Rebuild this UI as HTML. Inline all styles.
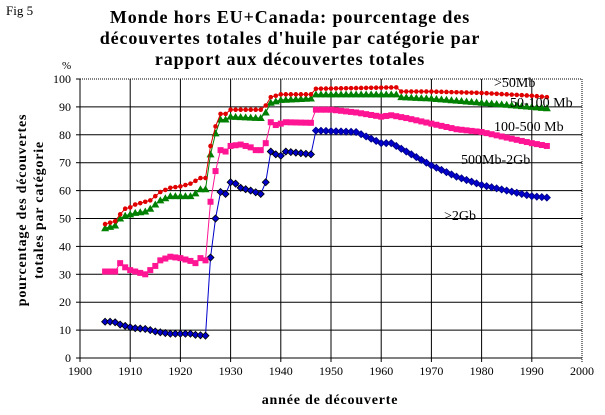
<!DOCTYPE html>
<html><head><meta charset="utf-8"><style>
body{margin:0;background:#fff;}
svg{display:block;font-family:"Liberation Serif",serif;}
</style></head><body>
<svg id="s" width="605" height="415" viewBox="0 0 605 415" xmlns="http://www.w3.org/2000/svg">
<rect width="605" height="415" fill="#fff"/>
<text x="6" y="15" font-size="13">Fig 5</text>
<g font-size="18" font-weight="bold" text-anchor="middle" letter-spacing="0.9">
<text x="290" y="23">Monde hors EU+Canada: pourcentage des</text>
<text x="290" y="44">découvertes totales d'huile par catégorie par</text>
<text x="290" y="65">rapport aux découvertes totales</text>
</g>
<text x="62" y="69" font-size="11">%</text>
<g font-size="14" font-weight="bold" text-anchor="middle" letter-spacing="0.8">
<text transform="translate(26,210) rotate(-90)">pourcentage des découvertes</text>
<text transform="translate(43,210) rotate(-90)">totales par catégorie</text>
<text x="330" y="404">année de découverte</text>
</g>
<g id="grid"></g>
<g id="data"></g>
<g font-size="14">
<text x="494" y="87">&gt;50Mb</text>
<text x="510" y="107">50-100 Mb</text>
<text x="494" y="131">100-500 Mb</text>
<text x="461" y="164">500Mb-2Gb</text>
<text x="444" y="220">&gt;2Gb</text>
</g>
</svg>
<script>
var ns="http://www.w3.org/2000/svg";
function X(y){return 80+(y-1900)*5.02;}
function Y(v){return 358-v*2.79;}
function el(p,t,a,txt){var e=document.createElementNS(ns,t);for(var k in a)e.setAttribute(k,a[k]);if(txt!=null)e.textContent=txt;p.appendChild(e);return e;}
var g=document.getElementById('grid');
for(var v=0;v<=100;v+=10){
 el(g,'line',{x1:80,x2:582,y1:Y(v),y2:Y(v),stroke:'#000','stroke-width':1,'stroke-dasharray':v==100?'1,1':''});
 el(g,'line',{x1:76,x2:80,y1:Y(v),y2:Y(v),stroke:'#000'});
 el(g,'text',{x:71,y:Y(v)+4,'font-size':12,'text-anchor':'end'},String(v));
}
for(var yr=1900;yr<=2000;yr+=10){
 var x=X(yr);
 el(g,'line',{x1:x,x2:x,y1:Y(100),y2:362,stroke:'#000','stroke-dasharray':yr==2000?'1,1':''});
 el(g,'text',{x:x,y:375,'font-size':12,'text-anchor':'middle'},String(yr));
}
function interp(k){var o=[];for(var i=0;i<k.length-1;i++){var a=k[i],b=k[i+1];for(var y=a[0];y<b[0];y++)o.push([y,a[1]+(b[1]-a[1])*(y-a[0])/(b[0]-a[0])]);}o.push(k[k.length-1]);return o;}
var blue=interp([[1905,13],[1906,13],[1907,12.8],[1908,12],[1909,11.5],[1910,11],[1911,10.7],[1913,10.4],[1914,10],[1915,9.5],[1916,9.2],[1918,8.7],[1922,8.7],[1923,8.3],[1925,8],[1926,36],[1927,50],[1928,59.5],[1929,58.8],[1930,63],[1931,62.5],[1932,61],[1934,60],[1936,58.8],[1937,63],[1938,74],[1939,73],[1940,72.5],[1941,74],[1946,73],[1947,81.5],[1955,81],[1960,77],[1962,77],[1965,74],[1970,69],[1975,65],[1980,62],[1985,60],[1990,58],[1993,57.5]]);
var pink=interp([[1905,31],[1907,31],[1908,34],[1909,32.5],[1910,31.5],[1911,31],[1913,30],[1914,31.5],[1915,33],[1916,35],[1918,36.3],[1920,35.8],[1922,34.8],[1923,34],[1924,35.8],[1925,35],[1926,56],[1927,67],[1928,74.5],[1929,74],[1930,76],[1932,76.5],[1934,75.5],[1935,74.5],[1936,74.5],[1937,77],[1938,84.5],[1939,83.5],[1941,84.5],[1946,84.3],[1947,89],[1950,89],[1955,88],[1960,86.5],[1962,87],[1965,86],[1970,84],[1975,82],[1980,81],[1985,79],[1990,77],[1993,76]]);
var green=interp([[1905,46.5],[1906,47],[1907,47.5],[1908,50],[1909,51],[1910,51.5],[1911,52],[1913,52.5],[1914,53.5],[1915,55],[1916,56.5],[1918,58],[1922,58],[1923,59],[1924,60.5],[1925,60.5],[1926,73],[1927,80.5],[1928,85.5],[1929,85.5],[1930,86.5],[1936,86],[1937,88],[1938,91.5],[1939,92],[1940,92.5],[1946,93],[1947,94.5],[1963,94.5],[1964,93.5],[1970,93],[1980,91.5],[1990,90],[1993,89.5]]);
var red=interp([[1905,48],[1906,48.5],[1907,49],[1908,51.5],[1909,53.5],[1910,54],[1911,55],[1913,56],[1914,56.5],[1915,58],[1916,59.5],[1918,61],[1920,61.5],[1922,62.5],[1923,63.5],[1924,64.5],[1925,64.5],[1926,76],[1927,83],[1928,87.5],[1929,87.5],[1930,89],[1936,89],[1937,90.5],[1938,93.5],[1939,94],[1940,94.5],[1946,94.5],[1947,96.5],[1963,97],[1964,95.5],[1970,95.5],[1980,95],[1990,94],[1993,93.5]]);
var d=document.getElementById('data');
function series(pts,col,mk){
 el(d,'polyline',{points:pts.map(function(p){return X(p[0])+','+Y(p[1]);}).join(' '),fill:'none',stroke:col,'stroke-width':1});
 pts.forEach(function(p){var x=X(p[0]),y=Y(p[1]);
  if(mk=='sq')el(d,'rect',{x:x-3,y:y-3,width:6,height:6,fill:col});
  else if(mk=='tri')el(d,'polygon',{points:(x)+','+(y-4)+' '+(x+4)+','+(y+3)+' '+(x-4)+','+(y+3),fill:col});
  else if(mk=='dia')el(d,'polygon',{points:x+','+(y-3.5)+' '+(x+3.5)+','+y+' '+x+','+(y+3.5)+' '+(x-3.5)+','+y,fill:col,stroke:p[0]<1947?'#000':'#000080','stroke-width':0.8});
  else el(d,'circle',{cx:x,cy:y,r:2.3,fill:col});
 });
}
series(blue,'#0000cc','dia');
series(pink,'#ff1493','sq');
series(green,'#008000','tri');
series(red,'#e00000','dot');
</script>
</body></html>
